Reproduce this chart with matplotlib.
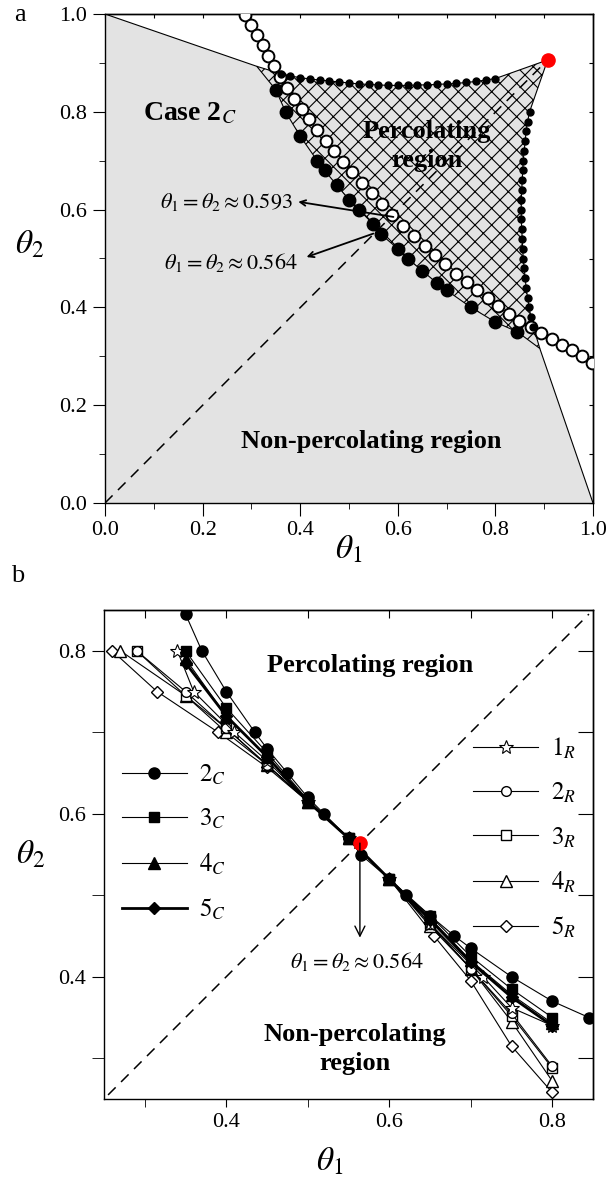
import numpy as np
import matplotlib.pyplot as plt
from matplotlib.ticker import MultipleLocator

plt.rcParams['font.family'] = ['Liberation Serif', 'DejaVu Serif']
plt.rcParams['mathtext.fontset'] = 'stix'
plt.rcParams['hatch.linewidth'] = 0.8
plt.rcParams['axes.linewidth'] = 1.0

# ---------------- data, panel a ----------------
# corners of the shaded region (theta1, theta2)
region_ul = [0.311, 0.893]
region_lr = [0.891, 0.316]
red_a = [0.907, 0.906]

# open circles (case 2_R critical line)
open_t1 = [0.287, 0.300, 0.312, 0.323, 0.335, 0.347, 0.359, 0.373, 0.387, 0.403, 0.419, 0.435, 0.452,
           0.469, 0.488, 0.507, 0.526, 0.547, 0.567, 0.589, 0.611, 0.633, 0.655, 0.676, 0.697, 0.719,
           0.741, 0.763, 0.785, 0.806, 0.827, 0.849, 0.872, 0.894, 0.915, 0.936, 0.957, 0.977, 0.998]
open_t2 = [0.998, 0.977, 0.957, 0.936, 0.915, 0.894, 0.872, 0.849, 0.827, 0.806, 0.785, 0.763, 0.741,
           0.719, 0.697, 0.676, 0.655, 0.633, 0.611, 0.589, 0.567, 0.547, 0.526, 0.507, 0.488, 0.469,
           0.452, 0.435, 0.419, 0.403, 0.387, 0.373, 0.359, 0.347, 0.335, 0.323, 0.312, 0.300, 0.287]

# small dots, top row and right column of hatched region
top_t1 = [0.36, 0.38, 0.40, 0.42, 0.44, 0.46, 0.48, 0.50, 0.52, 0.54, 0.56, 0.58, 0.60, 0.62, 0.64,
          0.66, 0.68, 0.70, 0.72, 0.74, 0.76, 0.78, 0.80]
top_t2 = [0.878, 0.873, 0.870, 0.867, 0.865, 0.863, 0.861, 0.859, 0.857, 0.856, 0.855, 0.854, 0.854,
          0.854, 0.855, 0.855, 0.856, 0.857, 0.858, 0.860, 0.862, 0.865, 0.868]
right_t1 = [0.870, 0.866, 0.863, 0.861, 0.859, 0.857, 0.856, 0.855, 0.854, 0.853, 0.853, 0.853, 0.854,
            0.855, 0.856, 0.857, 0.859, 0.861, 0.863, 0.866, 0.869, 0.873, 0.878]
right_t2 = [0.80, 0.78, 0.76, 0.74, 0.72, 0.70, 0.68, 0.66, 0.64, 0.62, 0.60, 0.58, 0.56, 0.54, 0.52,
            0.50, 0.48, 0.46, 0.44, 0.42, 0.40, 0.38, 0.36]

# ---------------- data, panel b ----------------
c2_t1 = [0.35, 0.37, 0.40, 0.435, 0.45, 0.475, 0.50, 0.52, 0.55, 0.565, 0.60, 0.62, 0.65, 0.68, 0.70,
         0.75, 0.80, 0.845]
c2_t2 = [0.845, 0.80, 0.75, 0.70, 0.68, 0.65, 0.62, 0.60, 0.57, 0.55, 0.52, 0.50, 0.475, 0.45, 0.435,
         0.40, 0.37, 0.35]
c3_t1 = [0.35, 0.40, 0.45, 0.50, 0.55, 0.60, 0.65, 0.70, 0.75, 0.80]
c3_t2 = [0.80, 0.73, 0.675, 0.617, 0.57, 0.52, 0.475, 0.425, 0.385, 0.35]
c4_t1 = [0.35, 0.40, 0.45, 0.50, 0.55, 0.60, 0.65, 0.70, 0.75, 0.80]
c4_t2 = [0.79, 0.72, 0.67, 0.615, 0.57, 0.52, 0.472, 0.42, 0.378, 0.343]
c5_t1 = [0.35, 0.40, 0.45, 0.50, 0.55, 0.60, 0.65, 0.70, 0.75, 0.80]
c5_t2 = [0.785, 0.72, 0.67, 0.615, 0.57, 0.52, 0.47, 0.418, 0.375, 0.34]

r1_t1 = [0.34, 0.36, 0.41, 0.45, 0.50, 0.55, 0.60, 0.65, 0.715, 0.75, 0.80]
r1_t2 = [0.80, 0.75, 0.70, 0.665, 0.615, 0.57, 0.52, 0.465, 0.40, 0.362, 0.34]
r2_t1 = [0.29, 0.35, 0.40, 0.45, 0.50, 0.55, 0.60, 0.65, 0.70, 0.75, 0.80]
r2_t2 = [0.80, 0.75, 0.705, 0.66, 0.615, 0.57, 0.52, 0.465, 0.41, 0.355, 0.29]
r3_t1 = [0.29, 0.35, 0.40, 0.45, 0.50, 0.55, 0.60, 0.65, 0.70, 0.75, 0.80]
r3_t2 = [0.80, 0.745, 0.705, 0.66, 0.615, 0.57, 0.52, 0.465, 0.41, 0.352, 0.288]
r4_t1 = [0.27, 0.35, 0.40, 0.45, 0.50, 0.55, 0.60, 0.65, 0.70, 0.75, 0.80]
r4_t2 = [0.80, 0.745, 0.70, 0.66, 0.615, 0.57, 0.52, 0.462, 0.41, 0.345, 0.272]
r5_t1 = [0.26, 0.315, 0.39, 0.45, 0.50, 0.55, 0.60, 0.655, 0.70, 0.75, 0.80]
r5_t2 = [0.80, 0.75, 0.70, 0.657, 0.615, 0.57, 0.52, 0.45, 0.395, 0.315, 0.258]

red_b = [0.564, 0.564]

gray = '#e3e3e3'
lab_fs = 24
tick_fs = 16
leg_fs = 18
ann_fs = 16

fig = plt.figure(figsize=(6.09, 11.77), dpi=100)
axa = fig.add_axes([105 / 609, 1 - 503 / 1177, 488 / 609, 489 / 1177])
axb = fig.add_axes([104 / 609, 1 - 1099 / 1177, 489 / 609, 489 / 1177])

# ---------------- panel a ----------------
gx = [0.0, 0.0, region_ul[0]] + c2_t1 + [region_lr[0], 1.0]
gy = [0.0, 1.0, region_ul[1]] + c2_t2 + [region_lr[1], 0.0]
axa.fill(gx, gy, color=gray, lw=0, zorder=1)

hx = [region_ul[0]] + top_t1 + [red_a[0]] + right_t1 + [region_lr[0]] + c2_t1[::-1]
hy = [region_ul[1]] + top_t2 + [red_a[1]] + right_t2 + [region_lr[1]] + c2_t2[::-1]
axa.fill(hx, hy, facecolor=gray, edgecolor='k', hatch='xx', lw=0.8, zorder=2)

axa.plot([0.0, region_ul[0]], [1.0, region_ul[1]], color='k', lw=0.8, zorder=3)
axa.plot([region_lr[0], 1.0], [region_lr[1], 0.0], color='k', lw=0.8, zorder=3)
axa.plot([0.0, red_a[0]], [0.0, red_a[1]], color='k', lw=1.1, ls=(0, (7, 5)), zorder=3)

axa.plot(c2_t1, c2_t2, 'o', color='k', ms=9, zorder=4)
axa.plot(open_t1, open_t2, 'o', mfc='white', mec='k', mew=1.4, ms=8.5, zorder=5)
axa.plot(top_t1, top_t2, 'o', color='k', ms=5, zorder=6)
axa.plot(right_t1, right_t2, 'o', color='k', ms=5, zorder=6)
axa.plot([red_a[0]], [red_a[1]], 'o', color='red', ms=9.5, zorder=7)

axa.text(0.078, 0.797, 'Case 2$_{C}$', fontsize=20, fontweight='bold', ha='left', va='center', zorder=8)
axa.text(0.659, 0.730, 'Percolating\nregion', fontsize=19, fontweight='bold', ha='center', va='center',
         linespacing=1.35, zorder=8)
axa.text(0.5465, 0.125, 'Non-percolating region', fontsize=19, fontweight='bold', ha='center',
         va='center', zorder=8)

axa.annotate('', xy=(0.396, 0.616), xytext=(0.591, 0.585),
             arrowprops=dict(arrowstyle='->', lw=1.3, color='k', shrinkA=0, shrinkB=0), zorder=8)
axa.annotate('', xy=(0.413, 0.503), xytext=(0.55, 0.551),
             arrowprops=dict(arrowstyle='->', lw=1.3, color='k', shrinkA=0, shrinkB=0), zorder=8)
axa.text(0.385, 0.616, r'$\theta_1 = \theta_2 \approx 0.593$', fontsize=ann_fs, ha='right', va='center',
         zorder=8)
axa.text(0.395, 0.492, r'$\theta_1 = \theta_2 \approx 0.564$', fontsize=ann_fs, ha='right', va='center',
         zorder=8)

axa.set_xlim(0, 1)
axa.set_ylim(0, 1)
axa.set_xticks(np.arange(0, 1.01, 0.2))
axa.set_yticks(np.arange(0, 1.01, 0.2))
axa.xaxis.set_minor_locator(MultipleLocator(0.1))
axa.yaxis.set_minor_locator(MultipleLocator(0.1))
axa.tick_params(which='major', direction='out', length=9, labelsize=tick_fs, pad=4)
axa.tick_params(which='minor', direction='out', length=4.5)
seca_x = axa.secondary_xaxis('top')
seca_x.set_ticks(np.arange(0, 1.01, 0.1))
seca_x.tick_params(direction='in', length=3)
seca_x.set_xticklabels([])
seca_y = axa.secondary_yaxis('right')
seca_y.set_ticks(np.arange(0, 1.01, 0.1))
seca_y.tick_params(direction='in', length=3)
seca_y.set_yticklabels([])

axa.set_xlabel(r'$\theta_1$', fontsize=lab_fs)
axa.set_ylabel(r'$\theta_2$', fontsize=lab_fs, rotation=0)
axa.xaxis.label.set_va('center')
axa.yaxis.label.set_va('center')
axa.xaxis.set_label_coords(0.5, -0.096)
axa.yaxis.set_label_coords(-0.154, 0.528)

# ---------------- panel b ----------------
axb.plot([0.255, 0.845], [0.255, 0.845], color='k', lw=1.1, ls=(0, (7, 5)), zorder=1)

kw_line = dict(color='k', lw=0.8, mec='k')
axb.plot(r5_t1, r5_t2, marker='D', ms=6.5, mfc='white', label='$5_R$', zorder=2, **kw_line)
axb.plot(r4_t1, r4_t2, marker='^', ms=8, mfc='white', label='$4_R$', zorder=2, **kw_line)
axb.plot(r3_t1, r3_t2, marker='s', ms=7, mfc='white', label='$3_R$', zorder=2, **kw_line)
axb.plot(r2_t1, r2_t2, marker='o', ms=7, mfc='white', label='$2_R$', zorder=2, **kw_line)
axb.plot(r1_t1, r1_t2, marker='*', ms=10, mfc='white', mew=0.8, label='$1_R$', zorder=2, **kw_line)

lc2, = axb.plot(c2_t1, c2_t2, marker='o', ms=8, mfc='k', zorder=3, label='$2_C$', **kw_line)
lc3, = axb.plot(c3_t1, c3_t2, marker='s', ms=7.5, mfc='k', zorder=3, label='$3_C$', **kw_line)
lc4, = axb.plot(c4_t1, c4_t2, marker='^', ms=8, mfc='k', zorder=3, label='$4_C$', **kw_line)
lc5, = axb.plot(c5_t1, c5_t2, marker='D', ms=6.5, mfc='k', color='k', lw=2.0, mec='k', zorder=3,
                label='$5_C$')
axb.plot([red_b[0]], [red_b[1]], 'o', color='red', ms=9.5, zorder=4)

axb.annotate('', xy=(red_b[0], 0.448), xytext=(red_b[0], red_b[1]),
             arrowprops=dict(arrowstyle='->', lw=1.0, color='k', shrinkA=0, shrinkB=0,
                             mutation_scale=18), zorder=5)
axb.text(0.56, 0.419, r'$\theta_1 = \theta_2 \approx 0.564$', fontsize=ann_fs, ha='center', va='center')
axb.text(0.576, 0.7815, 'Percolating region', fontsize=19, fontweight='bold', ha='center', va='center')
axb.text(0.558, 0.3115, 'Non-percolating\nregion', fontsize=19, fontweight='bold', ha='center',
         va='center', linespacing=1.35)

handles, labels = axb.get_legend_handles_labels()
leg_r = axb.legend(handles[4::-1], labels[4::-1], loc='center left', bbox_to_anchor=(0.755, 0.534),
                   frameon=False, fontsize=leg_fs, handlelength=2.6, handletextpad=0.5,
                   labelspacing=0.8, borderpad=0, borderaxespad=0, numpoints=1)
axb.add_artist(leg_r)
axb.legend([lc2, lc3, lc4, lc5], ['$2_C$', '$3_C$', '$4_C$', '$5_C$'], loc='center left',
           bbox_to_anchor=(0.036, 0.525), frameon=False, fontsize=leg_fs, handlelength=2.6,
           handletextpad=0.5, labelspacing=0.8, borderpad=0, borderaxespad=0, numpoints=1)

axb.set_xlim(0.25, 0.85)
axb.set_ylim(0.25, 0.85)
axb.set_xticks([0.4, 0.6, 0.8])
axb.set_yticks([0.4, 0.6, 0.8])
axb.xaxis.set_minor_locator(MultipleLocator(0.1))
axb.yaxis.set_minor_locator(MultipleLocator(0.1))
axb.tick_params(axis='x', which='both', direction='out', length=6, labelsize=tick_fs, pad=4)
axb.tick_params(axis='y', which='both', direction='out', length=9, labelsize=tick_fs, pad=4)
secx = axb.secondary_xaxis('top')
secx.set_ticks(np.arange(0.3, 0.85, 0.1))
secx.tick_params(direction='in', length=6)
secx.set_xticklabels([])
secy = axb.secondary_yaxis('right')
secy.set_ticks(np.arange(0.3, 0.85, 0.1))
secy.tick_params(direction='in', length=11)
secy.set_yticklabels([])

axb.set_xlabel(r'$\theta_1$', fontsize=lab_fs)
axb.set_ylabel(r'$\theta_2$', fontsize=lab_fs, rotation=0)
axb.xaxis.label.set_va('center')
axb.yaxis.label.set_va('center')
axb.xaxis.set_label_coords(0.462, -0.128)
axb.yaxis.set_label_coords(-0.151, 0.499)

fig.text(20 / 609, 1 - 15 / 1177, 'a', fontsize=19, ha='center', va='center')
fig.text(18 / 609, 1 - 576 / 1177, 'b', fontsize=19, ha='center', va='center')

fig.savefig('out.png', dpi=100)
